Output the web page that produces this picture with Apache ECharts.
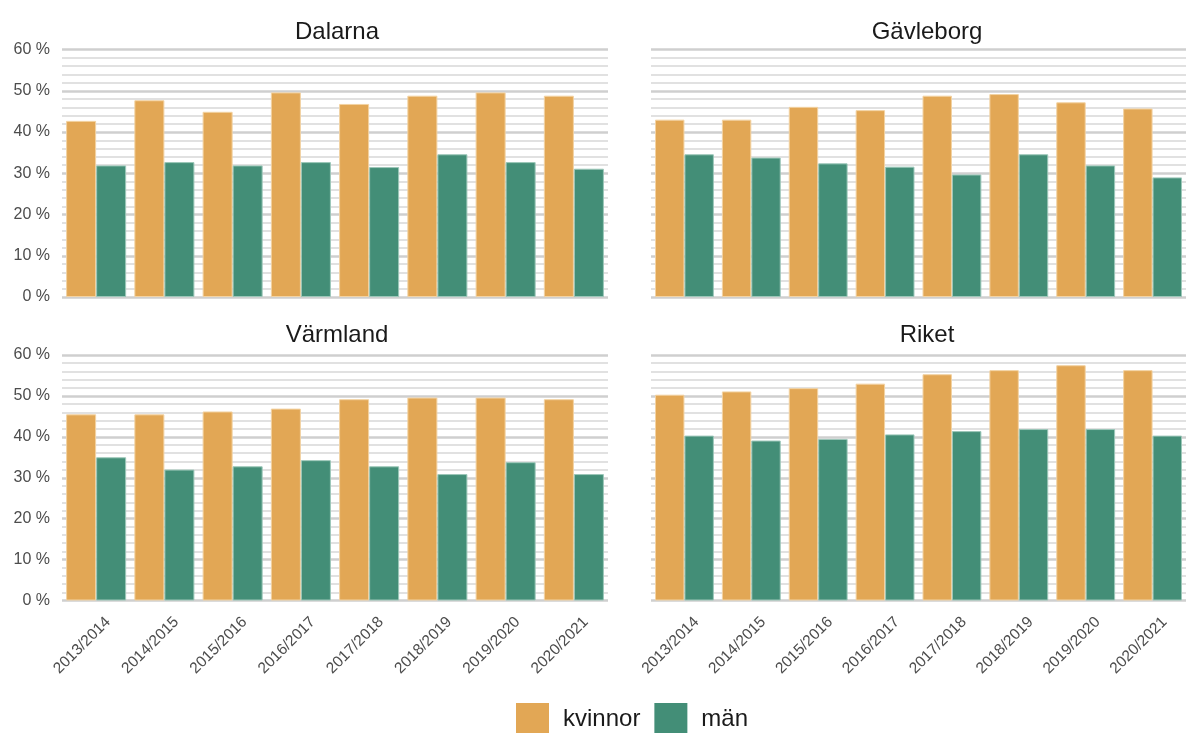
<!DOCTYPE html>
<html lang="sv">
<head>
    <meta charset="UTF-8">
    <title>Andel per län</title>
    <style>
        * { margin: 0; padding: 0; box-sizing: border-box; }
        body { background: #fff; }
        #chart { width: 1187px; height: 733px; }
    </style>
    <script src="https://cdn.jsdelivr.net/npm/echarts@6/dist/echarts.min.js"></script>
</head>
<body>
    <div id="chart"></div>
    <script>
        // läsår
        const years = ['2013/2014', '2014/2015', '2015/2016', '2016/2017', '2017/2018', '2018/2019', '2019/2020', '2020/2021'];

        const regions = ['Dalarna', 'Gävleborg', 'Värmland', 'Riket'];

        // andel i procent
        const dalarnaKvinnor = [42.7, 47.7, 44.9, 49.6, 46.8, 48.8, 49.6, 48.8];
        const dalarnaMan = [31.9, 32.7, 31.9, 32.7, 31.5, 34.6, 32.7, 31.1];
        const gavleborgKvinnor = [43.0, 43.0, 46.1, 45.3, 48.8, 49.2, 47.2, 45.7];
        const gavleborgMan = [34.6, 33.8, 32.4, 31.6, 29.7, 34.6, 31.9, 29.0];
        const varmlandKvinnor = [45.5, 45.5, 46.2, 46.9, 49.2, 49.6, 49.6, 49.2];
        const varmlandMan = [35.0, 32.0, 32.8, 34.3, 32.8, 30.9, 33.8, 30.9];
        const riketKvinnor = [50.3, 51.1, 51.9, 53.0, 55.3, 56.3, 57.5, 56.3];
        const riketMan = [40.3, 39.1, 39.5, 40.6, 41.4, 41.9, 41.9, 40.3];

        const yTicks = [0, 60, 10]; // min, max, intervall

        const kvinnor = [dalarnaKvinnor, gavleborgKvinnor, varmlandKvinnor, riketKvinnor];
        const man = [dalarnaMan, gavleborgMan, varmlandMan, riketMan];

        const orange = '#E2A755';
        const green = '#438E77';
        const font = 'Liberation Sans';

        // panelernas placering
        const grids = [
            { left: 62, right: 579, top: 49.5, bottom: 436 },
            { left: 651, right: 1, top: 49.5, bottom: 436 },
            { left: 62, right: 579, top: 355, bottom: 132.5 },
            { left: 651, right: 1, top: 355, bottom: 132.5 }
        ];
        const titleX = [332, 922, 332, 922];
        const titleY = [15, 15, 318, 318];

        const chart = echarts.init(document.getElementById('chart'));

        const xAxes = [], yAxes = [], series = [], titles = [];
        regions.forEach(function (name, i) {
            titles.push({
                text: name,
                left: titleX[i],
                top: titleY[i],
                textAlign: 'center',
                textStyle: { fontFamily: font, fontSize: 24, fontWeight: 'normal', color: '#1a1a1a' }
            });
            xAxes.push({
                type: 'category',
                gridIndex: i,
                data: years,
                axisLine: { show: false },
                axisTick: { show: false },
                axisLabel: {
                    show: i >= 2,
                    rotate: 45,
                    interval: 0,
                    margin: 7,
                    verticalAlign: 'top',
                    lineHeight: 34,
                    fontFamily: font,
                    fontSize: 15.5,
                    color: '#4d4d4d'
                }
            });
            yAxes.push({
                type: 'value',
                gridIndex: i,
                min: yTicks[0],
                max: yTicks[1],
                interval: yTicks[2],
                axisLine: { show: false },
                axisTick: { show: false },
                axisLabel: {
                    show: i % 2 === 0,
                    formatter: '{value} %',
                    margin: 12,
                    fontFamily: font,
                    fontSize: 16,
                    color: '#4d4d4d'
                },
                splitLine: { lineStyle: { color: '#cfcfcf', width: 2.5 } },
                minorTick: { show: false, splitNumber: 5 },
                minorSplitLine: { show: true, lineStyle: { color: '#d8d8d8', width: 1.5 } }
            });
            series.push({
                name: 'kvinnor',
                type: 'bar',
                xAxisIndex: i,
                yAxisIndex: i,
                data: kvinnor[i],
                barGap: '0%',
                barCategoryGap: '12%',
                itemStyle: { color: orange, borderColor: '#f3d3a3', borderWidth: 1 },
                emphasis: { disabled: true }
            });
            series.push({
                name: 'män',
                type: 'bar',
                xAxisIndex: i,
                yAxisIndex: i,
                data: man[i],
                barGap: '0%',
                barCategoryGap: '12%',
                itemStyle: { color: green, borderColor: '#9cc7b9', borderWidth: 1 },
                emphasis: { disabled: true }
            });
        });

        chart.setOption({
            animation: false,
            title: titles,
            grid: grids,
            xAxis: xAxes,
            yAxis: yAxes,
            legend: {
                data: ['kvinnor', 'män'],
                top: 703,
                left: 516,
                padding: 0,
                itemWidth: 33,
                itemHeight: 33,
                itemGap: 14,
                icon: 'rect',
                itemStyle: { borderWidth: 0 },
                textStyle: { fontFamily: font, fontSize: 24, color: '#1a1a1a', padding: [8, 0, 0, 9] }
            },
            series: series
        });
    </script>
</body>
</html>
